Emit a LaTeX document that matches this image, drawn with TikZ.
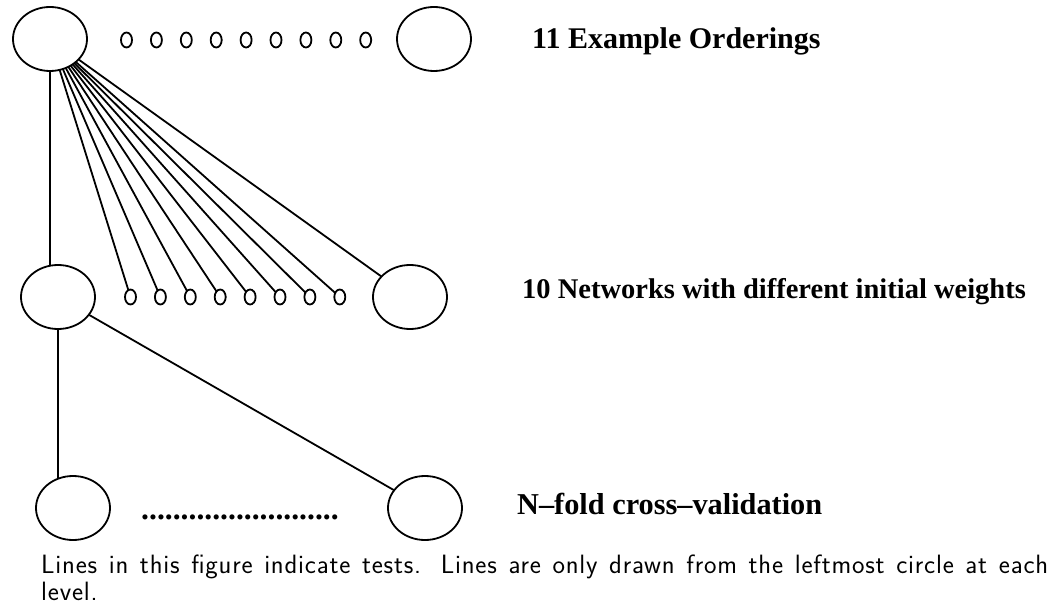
\documentclass[tikz,border=0pt]{standalone}
\usepackage{fontspec}
\setmainfont{Liberation Serif}
\usetikzlibrary{shapes.geometric,backgrounds}
\newfontfamily\capfont[LetterSpace=3]{Latin Modern Sans}
\begin{document}
\begin{tikzpicture}[x=1pt,y=-1pt,
  big/.style={ellipse,draw,fill=white,line width=1.8pt,minimum width=74pt,minimum height=64pt,inner sep=0pt,outer sep=0pt},
  small/.style={ellipse,draw,fill=white,line width=1.8pt,minimum width=11pt,minimum height=15pt,inner sep=0pt,outer sep=0pt},
  link/.style={line width=1.8pt},
  lbl/.style={anchor=base west,inner sep=0pt,font=\bfseries}]
\useasboundingbox (0,0) rectangle (1057,609);

% level 1: example orderings
\node[big] (top1) at (50,39) {};
\node[big] (top2) at (434,39) {};
\foreach \i in {1,...,9}
  \node[small] (ts\i) at ({126.5+29.9*(\i-1)},40) {};
\node[lbl] (l1) at (532,49) {\fontsize{30}{34}\selectfont 11 Example Orderings};

% level 2: networks
\node[big] (mid1) at (58,297) {};
\node[big] (mid2) at (410,297) {};
\foreach \i in {1,...,8}
  \node[small] (ms\i) at ({130.5+29.9*(\i-1)},297) {};
\node[lbl] (l2) at (522,299) {\fontsize{28.5}{34}\selectfont 10 Networks with different initial weights};

% level 3: cross-validation folds
\node[big] (bot1) at (73,508) {};
\node[big] (bot2) at (425,508) {};
\node[anchor=base west,inner sep=0pt,font=\fontsize{31.6}{36}\selectfont\bfseries] (dots) at (141,519) {.........................};
\node[lbl] (l3) at (517,514) {\fontsize{30.3}{34}\selectfont N--fold cross--validation};

% tests
\begin{scope}[on background layer]
  \draw[link] (top1.south) -- (top1.south |- mid1.center);
  \foreach \i in {1,...,8}
    \draw[link] (top1) -- (ms\i);
  \draw[link] (top1) -- (mid2);
  \draw[link] (mid1.south) -- (mid1.south |- bot1.center);
  \draw[link] (mid1) -- (bot2);
\end{scope}

\node[anchor=north west,text width=1007pt,align=justify,inner sep=0pt,
      font=\capfont\fontsize{26.5}{27}\selectfont] (cap) at (41,554.6)
  {Lines in this figure indicate tests. Lines are only drawn from the leftmost circle at each\linebreak level.};
\end{tikzpicture}
\end{document}
